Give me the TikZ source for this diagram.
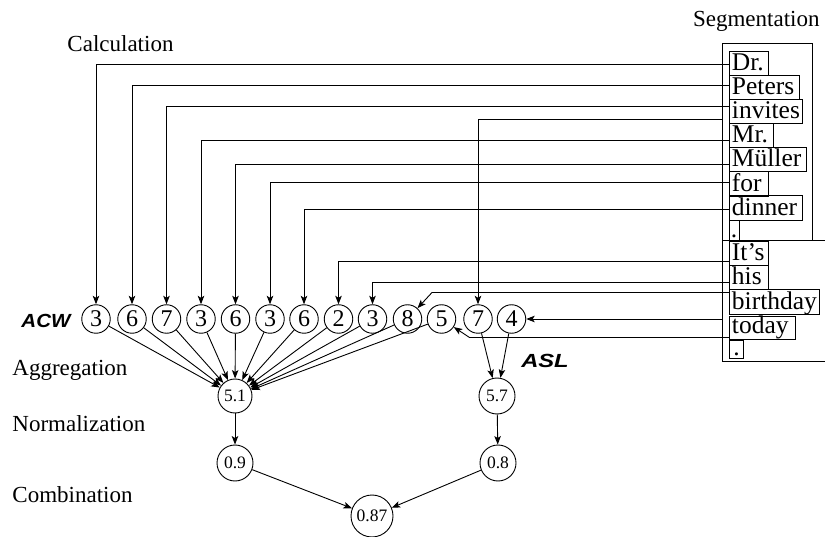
\documentclass[tikz,border=0pt]{standalone}
\usepackage{fontspec}
\setmainfont{Liberation Serif}
\newfontfamily\hsans{Liberation Sans}
\usetikzlibrary{arrows.meta}
\begin{document}
\begin{tikzpicture}[x=1pt,y=-1pt,
  line width=0.9pt,
  arr/.style={-{Stealth[length=8.5pt,width=6.5pt,inset=2pt]}},
  lbl/.style={font=\fontsize{23}{27}\selectfont, inner sep=0pt, anchor=base west},
  wbox/.style={draw, anchor=north west, inner xsep=2.5pt, inner ysep=1pt, text height=18.5pt, text depth=4pt, align=left, font=\fontsize{25.5}{27}\selectfont},
  acw/.style={circle, draw, minimum size=28.5pt, inner sep=0pt, font=\fontsize{24}{24}\selectfont},
  val/.style={circle, draw, inner sep=0pt, font=\fontsize{17.5}{17.5}\selectfont},
  tag/.style={font=\hsans\bfseries\itshape\fontsize{19}{19}\selectfont, inner sep=0pt}
]
\useasboundingbox (0,0) rectangle (825,537);

% labels
\node[lbl] (lcalc) at (67,52) {Calculation};
\node[lbl, anchor=base east] (lseg) at (820,27) {Segmentation};
\node[lbl] (lagg) at (12,376) {Aggregation};
\node[lbl] (lnorm) at (12,431) {Normalization};
\node[lbl] (lcomb) at (12,502) {Combination};
\node[tag, xscale=1.08] (lacw) at (46,321) {ACW};
\node[tag, xscale=1.25] (lasl) at (545,361) {ASL};

% sentence boxes
\draw (722.7,43) rectangle (812.3,240.5);
\draw (826,240.5) -- (722.7,240.5) -- (722.7,361.5) -- (826,361.5);

% word boxes
\node[wbox, text width=33.7pt] (w1) at (729,51) {Dr.};
\node[wbox, text width=65pt] (w2) at (729,75) {Peters};
\node[wbox, text width=67.7pt] (w3) at (729,99) {invites};
\node[wbox, text width=39pt] (w4) at (729,123) {Mr.};
\node[wbox, text width=71.7pt] (w5) at (729,147) {Müller};
\node[wbox, text width=33.7pt] (w6) at (729,171.5) {for};
\node[wbox, text width=67.7pt] (w7) at (729,195.5) {dinner};
\node[wbox, text width=7pt, inner xsep=1.5pt, text height=16pt, text depth=2pt] (wp1) at (729,220) {.};
\node[wbox, text width=33.7pt] (w8) at (729,241) {It’s};
\node[wbox, text width=33.7pt] (w9) at (729,265) {his};
\node[wbox, text width=85pt] (w10) at (729,289.5) {birthday};
\node[wbox, text width=61pt, text height=16pt, text depth=5.5pt] (w11) at (729,316) {today};
\node[wbox, text width=9pt, align=center, text height=14pt, text depth=2pt] (wp2) at (729,340.5) {.};

% ACW / ASL circles
\foreach \n/\x/\v in {1/96/3, 2/132/6, 3/166.5/7, 4/201/3, 5/235.5/6, 6/270/3, 7/304/6, 8/338.5/2, 9/372.5/3, 10/407.5/8, 11/441.5/5, 12/478/7, 13/511.5/4}
  \node[acw] (c\n) at (\x,319) {\v};

% value circles
\node[val, minimum size=34pt] (ag1) at (235,396) {5.1};
\node[val, minimum size=36pt] (ag2) at (497,396) {5.7};
\node[val, minimum size=36pt] (n1) at (235,463) {0.9};
\node[val, minimum size=36pt] (n2) at (498,463) {0.8};
\node[val, minimum size=42pt] (comb) at (372,516) {0.87};

% calculation connectors
\draw[arr] ([yshift=-13pt]w1.north west) -| (c1.north);
\draw[arr] ([yshift=-10.5pt]w2.north west) -| (c2.north);
\draw[arr] ([yshift=-7pt]w3.north west) -| (c3.north);
\draw[arr] ([yshift=-17pt]w4.north west) -| (c4.north);
\draw[arr] ([yshift=-17pt]w5.north west) -| (c5.north);
\draw[arr] ([yshift=-10.5pt]w6.north west) -| (c6.north);
\draw[arr] ([yshift=-14pt]w7.north west) -| (c7.north);
\draw[arr] ([yshift=-20.5pt]w8.north west) -| (c8.north);
\draw[arr] ([yshift=-17pt]w9.north west) -| (c9.north);
\coordinate (k10) at (432,292.5);
\draw[arr] ([yshift=-3pt]w10.north west) -- (k10) -- (c10);
\coordinate (k11) at (469.5,337.5);
\draw[arr] ([yshift=-21.5pt]w11.north west) -- (k11) -- (c11);
\coordinate (s1in) at (722.7,119.3);
\draw[arr] (s1in) -| (c12.north);
\coordinate (s2in) at (722.7,319);
\draw[arr] (s2in) -- (c13.east);

% aggregation
\foreach \i in {1,...,11} \draw[arr] (c\i) -- (ag1);
\draw[arr] (c12) -- (ag2);
\draw[arr] (c13) -- (ag2);

% normalization and combination
\draw[arr] (ag1) -- (n1);
\draw[arr] (ag2) -- (n2);
\draw[arr] (n1) -- (comb);
\draw[arr] (n2) -- (comb);
\end{tikzpicture}
\end{document}
